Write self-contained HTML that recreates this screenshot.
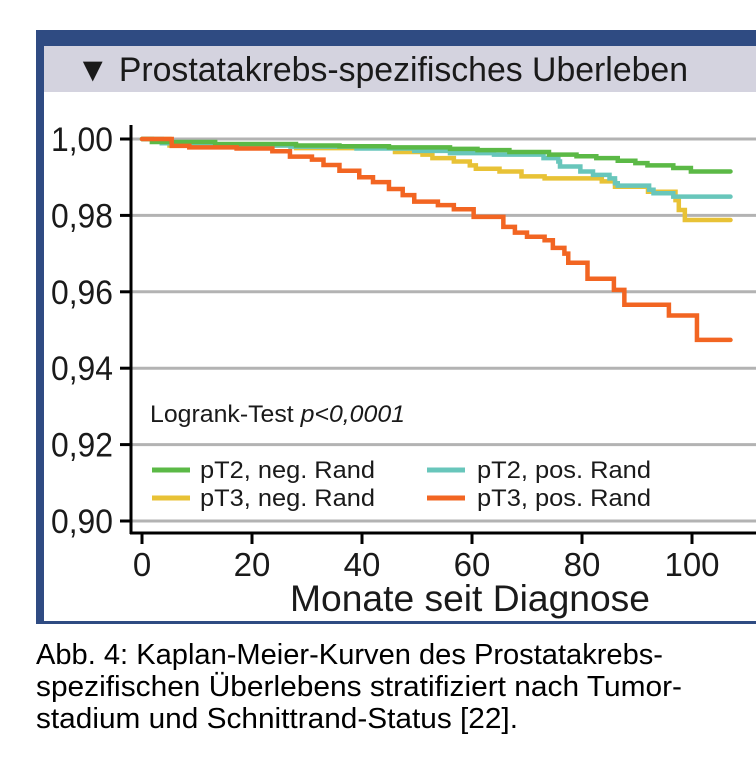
<!DOCTYPE html>
<html><head><meta charset="utf-8"><style>
body{margin:0;width:756px;height:761px;background:#fff;overflow:hidden;font-family:"Liberation Sans",Arial,sans-serif;}
svg{position:absolute;left:0;top:0}
</style></head><body>
<svg width="756" height="761">
<rect x="36" y="30" width="730" height="594" fill="#2f4b82"/>
<rect x="44" y="92" width="720" height="529" fill="#fff"/>
<rect x="44" y="46" width="720" height="46" fill="#d4d3df"/>
<text x="76" y="81" font-size="34" fill="#1a1a1a" textLength="612" lengthAdjust="spacingAndGlyphs">▼ Prostatakrebs-spezifisches Uberleben</text>
<g id="grid"></g>
<g id="axes"></g>
<g id="curves"></g>
<text x="150" y="422" font-size="24" fill="#1a1a1a" textLength="255" lengthAdjust="spacingAndGlyphs">Logrank-Test <tspan font-style="italic">p&lt;0,0001</tspan></text>
<g>
<line x1="152" y1="470" x2="190" y2="470" stroke="#5bb946" stroke-width="5"/>
<text x="200" y="478" font-size="24" fill="#1a1a1a" textLength="175" lengthAdjust="spacingAndGlyphs">pT2, neg. Rand</text>
<line x1="427" y1="470" x2="465" y2="470" stroke="#68c6bb" stroke-width="5"/>
<text x="477" y="478" font-size="24" fill="#1a1a1a" textLength="174" lengthAdjust="spacingAndGlyphs">pT2, pos. Rand</text>
<line x1="152" y1="498" x2="190" y2="498" stroke="#e8c236" stroke-width="5"/>
<text x="200" y="506" font-size="24" fill="#1a1a1a" textLength="175" lengthAdjust="spacingAndGlyphs">pT3, neg. Rand</text>
<line x1="427" y1="498" x2="465" y2="498" stroke="#f26522" stroke-width="5"/>
<text x="477" y="506" font-size="24" fill="#1a1a1a" textLength="174" lengthAdjust="spacingAndGlyphs">pT3, pos. Rand</text>
</g>
<text x="290" y="611" font-size="37" fill="#1a1a1a" textLength="360" lengthAdjust="spacingAndGlyphs">Monate seit Diagnose</text>
<text x="36" y="664" font-size="29" fill="#000" textLength="627" lengthAdjust="spacingAndGlyphs">Abb. 4: Kaplan-Meier-Kurven des Prostatakrebs-</text>
<text x="36" y="696" font-size="29" fill="#000" textLength="646" lengthAdjust="spacingAndGlyphs">spezifischen Überlebens stratifiziert nach Tumor-</text>
<text x="36" y="728" font-size="29" fill="#000" textLength="482" lengthAdjust="spacingAndGlyphs">stadium und Schnittrand-Status [22].</text>
</svg>
<script>
const yTicks=[1.00,0.98,0.96,0.94,0.92,0.90];
const yTickLabels=["1,00","0,98","0,96","0,94","0,92","0,90"];
const xTicks=[0,20,40,60,80,100];
const endMonth=107;
const g1T=[0,1.8,13.3,28,35.9,44.9,56,61,66.8,74,79,82.6,86.5,89.7,91.9,96.6,99.8];
const g1V=[1,0.9992,0.9987,0.9983,0.9981,0.9978,0.9974,0.9971,0.9966,0.9959,0.9955,0.995,0.9943,0.9937,0.9931,0.9924,0.9915];
const g2T=[0,3.6,5.7,27,39,49.5,56,64,73,75.7,76,79.7,82,85,86,86.5,92.2,93,96.6];
const g2V=[1,0.9989,0.9983,0.998,0.9975,0.9969,0.9963,0.9959,0.995,0.9941,0.9928,0.9915,0.9906,0.9897,0.9884,0.9878,0.9867,0.9858,0.9849];
const g3T=[0,5,28,46,51,52.8,56.7,59.6,60.7,65,69,73.2,83.6,86,92,97,97.6,98.7];
const g3V=[1,0.9983,0.9976,0.9966,0.9959,0.995,0.9941,0.9931,0.9922,0.9915,0.9902,0.9897,0.9889,0.9875,0.9862,0.984,0.9814,0.9788];
const g4T=[0,5.4,8.6,17.2,23.7,26.9,30.9,33,35.9,39.5,42,44.9,47.4,49.5,53.8,56.7,60.3,65.7,67.8,70,73.2,74.7,76.8,77.5,81,85.8,87.7,95.8,100.9];
const g4V=[1,0.9982,0.9978,0.9975,0.9968,0.9954,0.9946,0.9932,0.9917,0.99,0.9887,0.9869,0.9853,0.9836,0.9827,0.9816,0.9796,0.977,0.9755,0.9744,0.9735,0.9715,0.97,0.9676,0.9634,0.9605,0.9566,0.9538,0.9474];
const NS="http://www.w3.org/2000/svg";
function X(m){return 142+m*5.5;}
function Y(v){return 139+(1-v)/0.02*76.4;}
function mk(tag,attrs,parent){const e=document.createElementNS(NS,tag);for(const k in attrs)e.setAttribute(k,attrs[k]);parent.appendChild(e);return e;}
const grid=document.getElementById('grid'),axes=document.getElementById('axes'),curves=document.getElementById('curves');
yTicks.forEach((v,i)=>{
 const l=mk('line',{x1:130,x2:756,y1:Y(v),y2:Y(v),stroke:'#b3b3b3','stroke-width':3},grid);
 
 
 const t=mk('line',{x1:120,x2:131,y1:Y(v),y2:Y(v),stroke:'#000','stroke-width':3},axes);
 
 
 const tx=mk('text',{x:113,y:Y(v)+12,'font-size':34,'text-anchor':'end',fill:'#1a1a1a',textLength:62,lengthAdjust:'spacingAndGlyphs'},axes);
 tx.textContent=yTickLabels[i];
 
 
});
const ya=mk('line',{x1:131,x2:131,y1:125,y2:534,stroke:'#000','stroke-width':3},axes);


const xa=mk('line',{x1:130,x2:756,y1:533,y2:533,stroke:'#000','stroke-width':3},axes);


xTicks.forEach(m=>{
 const t=mk('line',{x1:X(m),x2:X(m),y1:533,y2:544,stroke:'#000','stroke-width':3},axes);
 
 
 const tx=mk('text',{x:X(m),y:576,'font-size':33,'text-anchor':'middle',fill:'#1a1a1a'},axes);
 tx.textContent=String(m);
 
 
});
function curve(T,V,color,name){
 let d='M'+X(T[0])+' '+Y(V[0]);
 for(let i=1;i<T.length;i++){d+=' H'+X(T[i])+' V'+Y(V[i]);}
 d+=' H'+X(endMonth);
 const p=mk('path',{d:d,fill:'none',stroke:color,'stroke-width':4.5,'stroke-linecap':'round'},curves);
 
 
}
curve(g3T,g3V,'#e8c236','curve-pt3-neg');
curve(g2T,g2V,'#68c6bb','curve-pt2-pos');
curve(g1T,g1V,'#5bb946','curve-pt2-neg');
curve(g4T,g4V,'#f26522','curve-pt3-pos');
</script>
</body></html>
